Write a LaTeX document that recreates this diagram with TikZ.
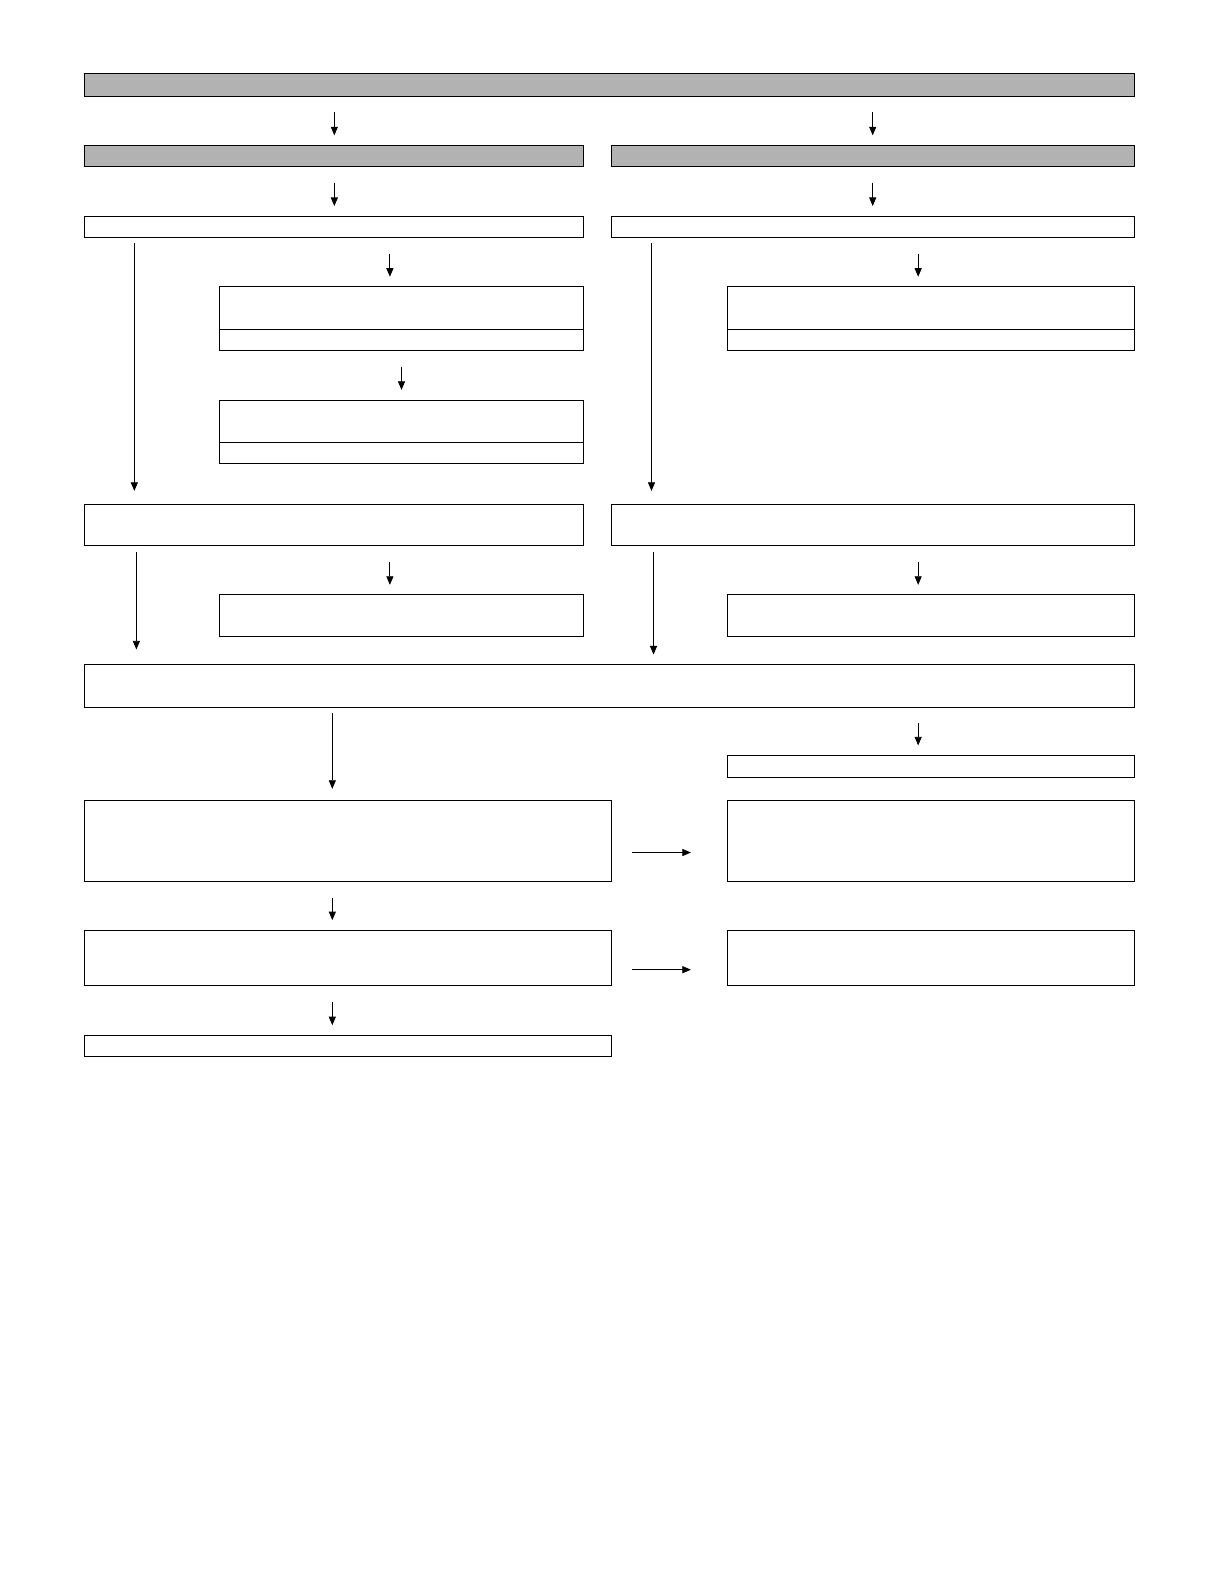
\documentclass[tikz,border=0pt]{standalone}
\usetikzlibrary{arrows.meta}
\begin{document}
\begin{tikzpicture}
[x=1pt,y=-1pt,line width=0.9pt,
 every node/.style={draw,rectangle,anchor=north west,inner sep=0pt,outer sep=0pt},
 grey/.style={fill=black!30},
 arr/.style={line width=0.8pt,-{Triangle[length=8.5pt,width=7pt]},shorten <=16pt,shorten >=10pt}]
\useasboundingbox (0,0) rectangle (1207.8,1568.2);
% top rows
\node[grey,minimum width=1039pt,minimum height=22pt] (top) at (84,73) {};
\node[grey,minimum width=494pt,minimum height=21pt] (l2) at (84,144) {};
\node[grey,minimum width=518pt,minimum height=21pt] (r2) at (605,144) {};
\node[minimum width=494pt,minimum height=21pt] (l3) at (84,214) {};
\node[minimum width=518pt,minimum height=21pt] (r3) at (605,214) {};
% left branch
\node[minimum width=361pt,minimum height=42pt] (l4a) at (217,284) {};
\node[minimum width=361pt,minimum height=21pt] (l4b) at (217,326) {};
\node[minimum width=361pt,minimum height=42pt] (l5a) at (217,396) {};
\node[minimum width=361pt,minimum height=21pt] (l5b) at (217,438) {};
% right branch
\node[minimum width=403pt,minimum height=42pt] (r4a) at (720,284) {};
\node[minimum width=403pt,minimum height=21pt] (r4b) at (720,326) {};
% middle
\node[minimum width=494pt,minimum height=41pt] (l6) at (84,499) {};
\node[minimum width=518pt,minimum height=41pt] (r6) at (605,499) {};
\node[minimum width=361pt,minimum height=41pt] (l7) at (217,589) {};
\node[minimum width=403pt,minimum height=41pt] (r7) at (720,589) {};
\node[minimum width=1039pt,minimum height=42pt] (big) at (84,658) {};
% bottom
\node[minimum width=403pt,minimum height=22pt] (r8) at (720,748) {};
\node[minimum width=521pt,minimum height=81pt] (l9) at (84,792) {};
\node[minimum width=403pt,minimum height=81pt] (r9) at (720,792) {};
\node[minimum width=521pt,minimum height=55pt] (l10) at (84,921) {};
\node[minimum width=403pt,minimum height=55pt] (r10) at (720,921) {};
\node[minimum width=521pt,minimum height=21pt] (l11) at (84,1025) {};
% arrows
\foreach \from/\to in {top/l2,top/r2,l2/l3,r2/r3,l4b/l5a}
\draw[arr] (\to.north |- \from.south) -- (\to.north);
\foreach \from/\to/\dx in {l3/l4a/169,r3/r4a/189,l6/l7/169,r6/r7/189,big/r8/189}
\draw[arr] ([xshift=\dx pt]\to.north west |- \from.south) -- ([xshift=\dx pt]\to.north west);
\draw[arr,shorten <=6pt,shorten >=13pt] ([xshift=49pt]l3.south west) -- ([xshift=49pt]l3.south west |- l6.north);
\draw[arr,shorten <=6pt,shorten >=13pt] ([xshift=40pt]r3.south west) -- ([xshift=40pt]r3.south west |- r6.north);
\draw[arr,shorten <=6pt,shorten >=15pt] ([xshift=51pt]l6.south west) -- ([xshift=51pt]l6.south west |- big.north);
\draw[arr,shorten <=6pt,shorten >=10pt] ([xshift=42pt]r6.south west) -- ([xshift=42pt]r6.south west |- big.north);
\draw[arr,shorten <=6pt,shorten >=11pt] ([xshift=245pt]l9.north west |- big.south) -- ([xshift=245pt]l9.north west);
\draw[arr] ([xshift=245pt]l9.south west) -- ([xshift=245pt]l9.south west |- l10.north);
\draw[arr] ([xshift=245pt]l10.south west) -- ([xshift=245pt]l10.south west |- l11.north);
\draw[arr,shorten <=21pt,shorten >=36pt] ([yshift=-11.5pt]l9.east) -- ([yshift=-11.5pt]l9.east -| r9.west);
\draw[arr,shorten <=21pt,shorten >=36pt] ([yshift=-11.5pt]l10.east) -- ([yshift=-11.5pt]l10.east -| r10.west);
\end{tikzpicture}
\end{document}
